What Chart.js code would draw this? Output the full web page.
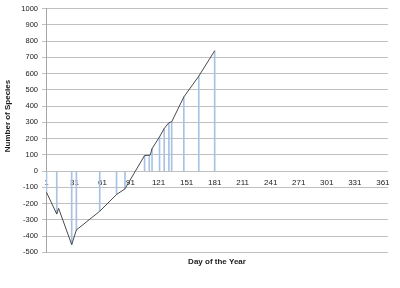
<!DOCTYPE html>
<html>
<head>
<meta charset="utf-8">
<script src="https://cdn.jsdelivr.net/npm/chart.js@4"></script>
<style>
  html, body { margin: 0; padding: 0; background: #fff; }
</style>
</head>
<body>
<canvas id="speciesChart" width="400" height="288"></canvas>
<script>
(() => {
  'use strict';

  // Category axis: every day of the year, only every 30th one is labelled
  const dayLabels = Array.from({ length: 366 }, (_, i) => String(i + 1));
  const labelledDays = [1, 31, 61, 91, 121, 151, 181, 211, 241, 271, 301, 331, 361];

  // Running total (black line), one vertex per recorded day
  const lineDays = [1, 12, 14, 28, 33, 58, 76, 85, 106, 112, 114, 122, 127, 132, 135, 148, 164, 181];
  const lineValues = [-130, -264, -229, -452, -362, -247, -144, -109, 96, 98, 138, 211, 262, 298, 303, 456, 584, 740];

  // Thin blue columns
  const barDays = [1, 12, 28, 33, 58, 76, 85, 106, 111, 114, 122, 127, 132, 135, 148, 164, 181];
  const barValues = [-130, -264, -452, -362, -247, -144, -109, 96, 98, 138, 211, 262, 298, 303, 456, 584, 740];

  const yMin = -500;
  const yMax = 1000;
  const yStep = 100;
  const yTitle = 'Number of Species';
  const xTitle = 'Day of the Year';

  const FONT = "'Liberation Sans', Arial, sans-serif";
  const TEXT = '#1a1a1a';

  Chart.defaults.font.family = FONT;

  // put the sparse values onto the full day axis
  function spread(days, values) {
    const out = new Array(dayLabels.length).fill(null);
    days.forEach((d, i) => { out[d - 1] = values[i]; });
    return out;
  }

  // Excel puts the vertical title a bit above the middle of the plot
  const yTitlePlugin = {
    id: 'yTitle',
    afterDraw(chart) {
      const c = chart.ctx;
      c.save();
      c.translate(8, 116);
      c.rotate(-Math.PI / 2);
      c.font = `bold 8px ${FONT}`;
      c.fillStyle = TEXT;
      c.textAlign = 'center';
      c.textBaseline = 'middle';
      c.fillText(yTitle, 0, 0);
      c.restore();
    },
  };

  const ctx = document.getElementById('speciesChart').getContext('2d');

  new Chart(ctx, {
    type: 'bar',
    data: {
      labels: dayLabels,
      datasets: [
        {
          type: 'line',
          data: spread(lineDays, lineValues),
          borderColor: '#4a4a4a',
          borderWidth: 1,
          pointRadius: 0,
          spanGaps: true,
          tension: 0,
          order: 0,
        },
        {
          type: 'bar',
          data: spread(barDays, barValues),
          backgroundColor: '#a9c2e4',
          barThickness: 1,
          order: 1,
        },
      ],
    },
    options: {
      responsive: false,
      animation: false,
      devicePixelRatio: 1,
      layout: { padding: { top: 7, right: 12, bottom: 21, left: 0 } },
      plugins: {
        legend: { display: false },
        tooltip: { enabled: false },
        title: {
          display: true,
          text: xTitle,
          position: 'bottom',
          fullSize: false,
          color: TEXT,
          font: { size: 8, weight: 'bold' },
          padding: { top: 5, bottom: 0 },
        },
      },
      scales: {
        x: {
          position: { y: 0 },
          offset: true,
          z: 1,
          grid: { display: false, drawTicks: true, tickLength: 4 },
          border: { display: false },
          ticks: {
            autoSkip: false,
            maxRotation: 0,
            minRotation: 0,
            padding: 3,
            color: TEXT,
            font: { size: 8 },
            callback: (v, i) => labelledDays.includes(i + 1) ? dayLabels[i] : '',
          },
        },
        y: {
          min: yMin,
          max: yMax,
          grid: { color: '#c0c0c0', tickLength: 4 },
          border: { color: '#a6a6a6' },
          ticks: {
            stepSize: yStep,
            padding: 4,
            color: TEXT,
            font: { size: 7.5 },
            callback: (v) => String(v),
          },
          afterFit: (scale) => { scale.width = 46; },
        },
      },
    },
    plugins: [yTitlePlugin],
  });
})();
</script>
</body>
</html>
